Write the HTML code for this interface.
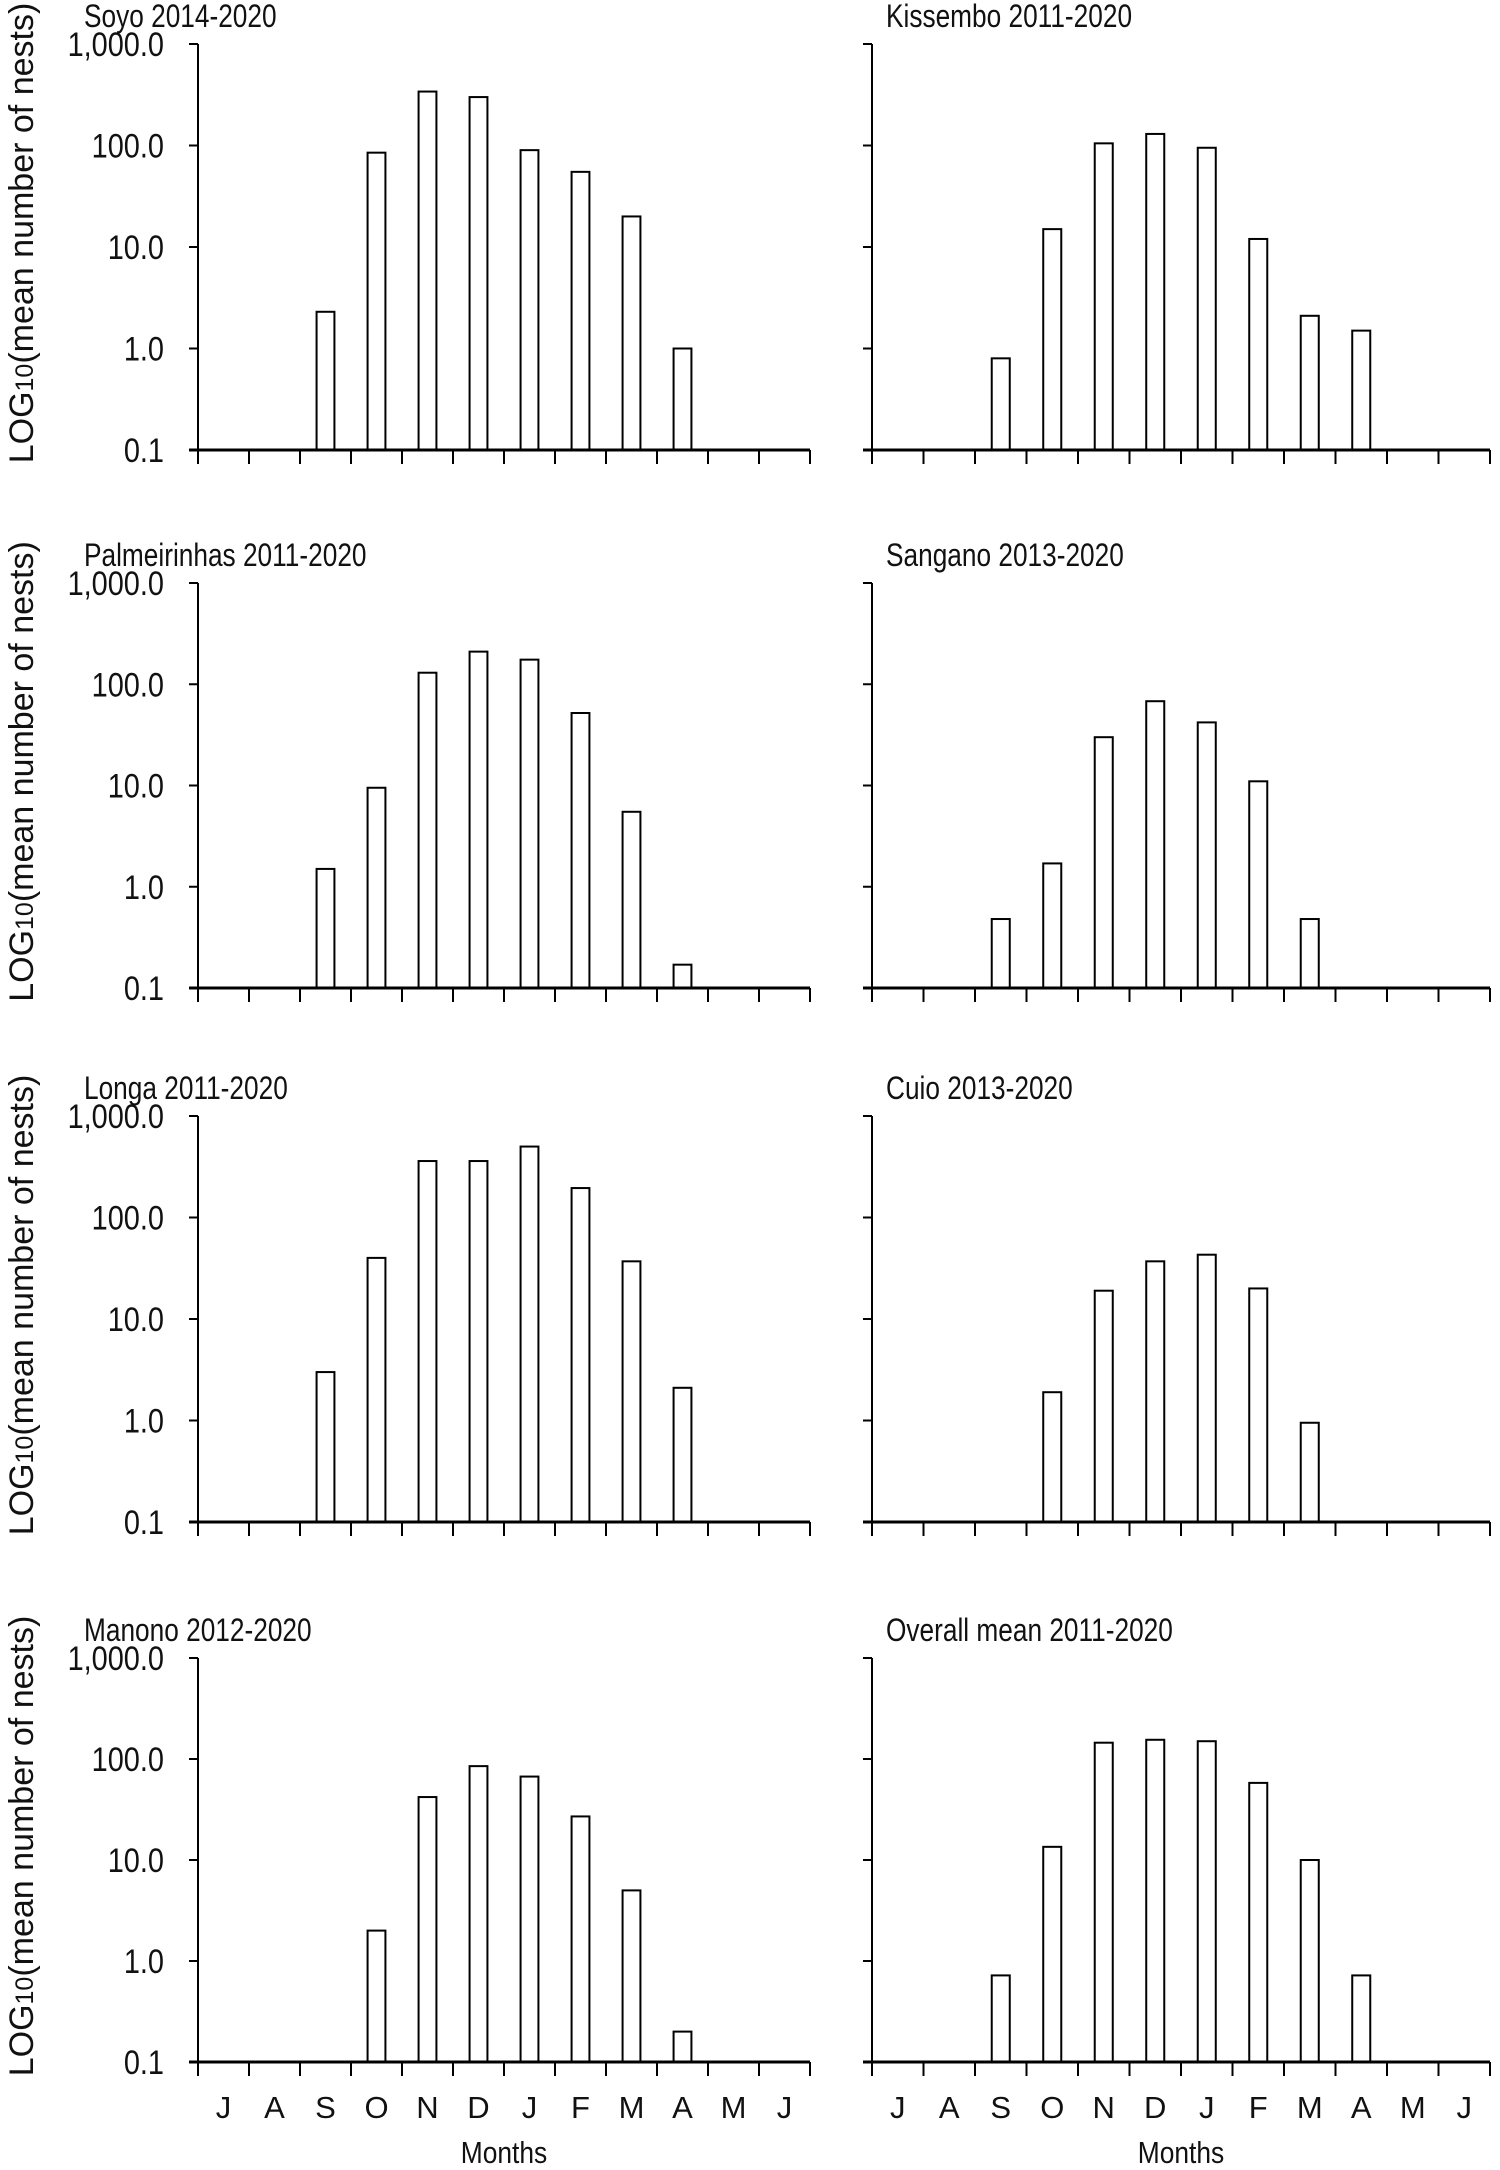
<!DOCTYPE html>
<html><head><meta charset="utf-8"><style>
html,body{margin:0;padding:0;background:#fff;}
svg{display:block;font-family:"Liberation Sans",Arial,sans-serif;}
</style></head><body>
<svg id="fig" width="1500" height="2170" viewBox="0 0 1500 2170"></svg>
<script>
const months = ["J","A","S","O","N","D","J","F","M","A","M","J"];
const yTicks = [0.1, 1, 10, 100, 1000];
const yTickLabels = ["0.1","1.0","10.0","100.0","1,000.0"];
const titles = ["Soyo 2014-2020","Kissembo 2011-2020","Palmeirinhas 2011-2020","Sangano 2013-2020","Longa 2011-2020","Cuio 2013-2020","Manono 2012-2020","Overall mean 2011-2020"];
const soyo = [0,0,2.3,85,340,300,90,55,20,1.0,0,0];
const kissembo = [0,0,0.8,15,105,130,95,12,2.1,1.5,0,0];
const palmeirinhas = [0,0,1.5,9.5,130,210,175,52,5.5,0.17,0,0];
const sangano = [0,0,0.48,1.7,30,68,42,11,0.48,0,0,0];
const longa = [0,0,3.0,40,360,360,500,195,37,2.1,0,0];
const cuio = [0,0,0,1.9,19,37,43,20,0.95,0,0,0];
const manono = [0,0,0,2.0,42,85,67,27,5.0,0.2,0,0];
const overall = [0,0,0.72,13.5,145,155,150,58,10,0.72,0,0];
const series = [soyo,kissembo,palmeirinhas,sangano,longa,cuio,manono,overall];

const NS="http://www.w3.org/2000/svg";
const svg=document.getElementById('fig');
function mk(tag,attrs,parent){const e=document.createElementNS(NS,tag);for(const k in attrs)e.setAttribute(k,attrs[k]);(parent||svg).appendChild(e);return e;}
function condense(t,f){const w=t.getComputedTextLength();t.setAttribute('textLength',w*f);t.setAttribute('lengthAdjust','spacingAndGlyphs');}

const rows=[{top:44,base:450},{top:583,base:988},{top:1116,base:1522},{top:1658,base:2062}];
const cols=[{x0:198,x1:810,tx:84},{x0:872,x1:1490,tx:886}];

series.forEach((data,i)=>{
  const r=rows[Math.floor(i/2)], c=cols[i%2];
  const g=mk('g',{});
  
  
  const y=v=>r.base-(Math.log10(v)+1)/4*(r.base-r.top);
  const bw=(c.x1-c.x0)/months.length;
  const x=k=>c.x0+k*bw;
  const t=mk('text',{x:c.tx,y:r.top-17,'font-size':32,fill:'#111'},g);
  t.textContent=titles[i];
  
  
  condense(t,0.82);
  data.forEach((v,k)=>{
    if(v<=0.1)return;
    const w=bw*0.35;
    const b=mk('rect',{x:x(k)+bw/2-w/2,y:y(v),width:w,height:r.base-y(v),fill:'#fff',stroke:'#000','stroke-width':2},g);
    
    
  });
  const ya=mk('line',{x1:c.x0,y1:r.top,x2:c.x0,y2:r.base+14,stroke:'#000','stroke-width':2},g);
  
  
  const xa=mk('line',{x1:c.x0-9,y1:r.base,x2:c.x1,y2:r.base,stroke:'#000','stroke-width':3},g);
  
  
  yTicks.forEach((v,k)=>{
    mk('line',{x1:c.x0-9,y1:y(v),x2:c.x0,y2:y(v),stroke:'#000','stroke-width':2},g);
    if(i%2===0){
      const tl=mk('text',{x:c.x0-34,y:y(v)+12,'font-size':34,'text-anchor':'end',fill:'#111'},g);
      tl.textContent=yTickLabels[k];
      
      
      condense(tl,0.85);
    }
  });
  for(let k=0;k<=months.length;k++){
    mk('line',{x1:x(k),y1:r.base,x2:x(k),y2:r.base+14,stroke:'#000','stroke-width':2},g);
  }
  if(i%2===0){
    const yt=mk('text',{transform:`translate(33,${(r.top+r.base)/2-14}) rotate(-90)`,'font-size':34,'text-anchor':'middle',fill:'#111'},g);
    yt.innerHTML='LOG<tspan font-size="25">10</tspan>(mean number of nests)';
    
    
  }
  if(i>=6){
    months.forEach((m,k)=>{
      const ml=mk('text',{x:x(k)+bw/2,y:2118,'font-size':31,'text-anchor':'middle',fill:'#111'},g);
      ml.textContent=m;
      
      
    });
    const xt=mk('text',{x:(c.x0+c.x1)/2,y:2163,'font-size':31,'text-anchor':'middle',fill:'#111'},g);
    xt.textContent='Months';
    
    
    condense(xt,0.85);
  }
});
</script>
</body></html>
